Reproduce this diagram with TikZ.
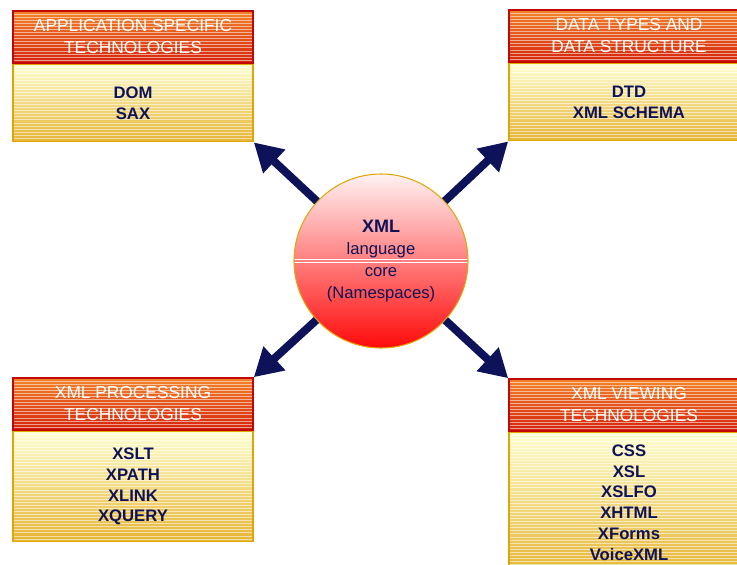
\documentclass[tikz,border=0pt]{standalone}
\usepackage{fontspec}
\setmainfont{Liberation Sans}
\usetikzlibrary{arrows.meta,positioning}
\definecolor{xnavy}{HTML}{0E1258}
\definecolor{htop}{HTML}{F3842A}
\definecolor{hbot}{HTML}{D5230C}
\definecolor{hrule}{HTML}{C00808}
\definecolor{btop}{HTML}{FFFFD2}
\definecolor{bbot}{HTML}{E6B535}
\definecolor{brule}{HTML}{DFA60A}
\definecolor{ctop}{HTML}{FFF2F2}
\definecolor{cbot}{HTML}{FF0A0A}

\tikzset{
  stripes/.style={path picture={
      \foreach \k in {1,...,70}
        \draw[white,opacity=.55,line width=.55pt]
          ([yshift=-\k*2.3pt]path picture bounding box.north west) --
          ([yshift=-\k*2.3pt]path picture bounding box.north east);}},
  head/.style={draw=hrule,line width=1.2pt,top color=htop,bottom color=hbot,
               stripes,minimum width=180pt,minimum height=39pt,inner sep=0pt,
               align=center,text=white,font=\fontsize{13}{16.5}\selectfont},
  body/.style={draw=brule,line width=1.2pt,top color=btop,bottom color=bbot,
               stripes,minimum width=180pt,inner sep=0pt,align=center,
               text=xnavy,font=\fontsize{12.5}{15.6}\selectfont\bfseries},
  arr/.style={draw=xnavy,line width=6pt,
              -{Triangle[length=21pt,width=23pt]}}
}

\begin{document}
\begin{tikzpicture}[x=0.75pt,y=-0.75pt]
\useasboundingbox (0,0) rectangle (737,564);

% boxes
\node[head] (aphead) at (133,37) {APPLICATION SPECIFIC\\TECHNOLOGIES};
\node[body,minimum height=57.75pt,below=0pt of aphead] (apbody) {DOM\\SAX};

\node[head] (dthead) at (629,36) {DATA TYPES AND\\DATA STRUCTURE};
\node[body,minimum height=57.75pt,below=0pt of dthead] (dtbody)
  {DTD\\XML SCHEMA};

\node[head] (prhead) at (133,404) {XML PROCESSING\\TECHNOLOGIES};
\node[body,minimum height=82.5pt,below=0pt of prhead] (prbody)
  {XSLT\\XPATH\\XLINK\\XQUERY};

\node[head] (vwhead) at (629,405) {XML VIEWING\\TECHNOLOGIES};
\node[body,minimum height=105pt,below=0pt of vwhead] (vwbody)
  {CSS\\XSL\\XSLFO\\XHTML\\XForms\\VoiceXML};

% core
\node[circle,draw=brule,line width=0.8pt,top color=ctop,bottom color=cbot,
      minimum size=130.5pt,inner sep=0pt,align=center,text=xnavy,
      font=\fontsize{12.5}{16.5}\selectfont,
      path picture={
        \draw[white,line width=.6pt]
          ([yshift=1.5pt]path picture bounding box.west) --
          ([yshift=1.5pt]path picture bounding box.east)
          ([yshift=-1pt]path picture bounding box.west) --
          ([yshift=-1pt]path picture bounding box.east);}]
  (core) at (381,261)
  {{\fontsize{13.5}{16.5}\selectfont\bfseries XML}\\language\\core\\(Namespaces)};

% arrows
\draw[arr] (core) -- (apbody.south east);
\draw[arr] (core) -- (dtbody.south west);
\draw[arr] (core) -- (prhead.north east);
\draw[arr] (core) -- (vwhead.north west);
\end{tikzpicture}
\end{document}
